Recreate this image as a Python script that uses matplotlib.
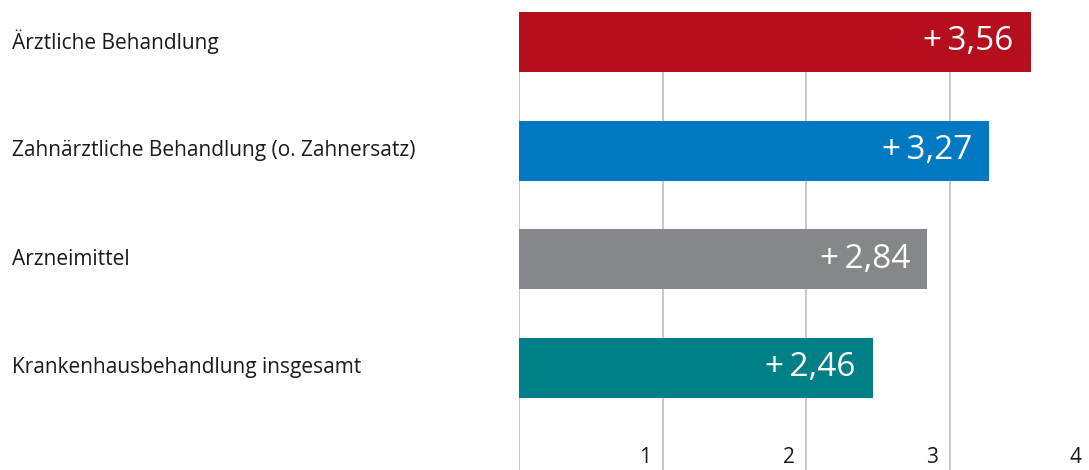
import matplotlib.pyplot as plt
from matplotlib.transforms import offset_copy

categories = [
    "Ärztliche Behandlung",
    "Zahnärztliche Behandlung (o. Zahnersatz)",
    "Arzneimittel",
    "Krankenhausbehandlung insgesamt",
]
values = [3.56, 3.27, 2.84, 2.46]
colors = ["#b50f1e", "#0078c2", "#86878b", "#008086"]
ticks = [0, 1, 2, 3, 4]
tick_labels = ["", "1", "2", "3", "4"]

plt.rcParams['font.family'] = ['Open Sans', 'DejaVu Sans']

W, H = 1089, 470
fig = plt.figure(figsize=(W / 100, H / 100), dpi=100)

# axes: x=0 sits at 519 px, one unit is ~143.7 px; top at bar 1 edge
x0, unit = 519, 143.7
ax = fig.add_axes([x0 / W, 0, 4 * unit / W, (H - 12) / H])
ax.set_xlim(0, 4)
ypos = list(range(len(values)))
ax.set_ylim(3.94, -0.276)

for t in ticks:
    ax.axvline(t, color="#c4c4c4", lw=1.3, zorder=0)

ax.barh(ypos, values, height=0.552, color=colors, zorder=2)

for y, v in zip(ypos, values):
    tr = offset_copy(ax.transData, fig=fig, x=-17, y=0, units='dots')
    ax.text(v, y, "+\u2009" + f"{v:.2f}".replace(".", ","), transform=tr,
            ha='right', va='center', color='white', fontsize=24, zorder=3)

for y, c in zip(ypos, categories):
    ax.text(-x0 / unit + 12 / unit, y, c, ha='left', va='center',
            fontsize=15, color='#1a1a1a', clip_on=False)

for t, lab in zip(ticks, tick_labels):
    tr = offset_copy(ax.transData, fig=fig, x=-12, y=0, units='dots')
    ax.text(t, 3.92, lab, transform=tr, ha='right', va='bottom',
            fontsize=15, color='#1a1a1a')

ax.set_xticks([])
ax.set_yticks([])
for s in ax.spines.values():
    s.set_visible(False)

fig.savefig("out.png", dpi=100)
